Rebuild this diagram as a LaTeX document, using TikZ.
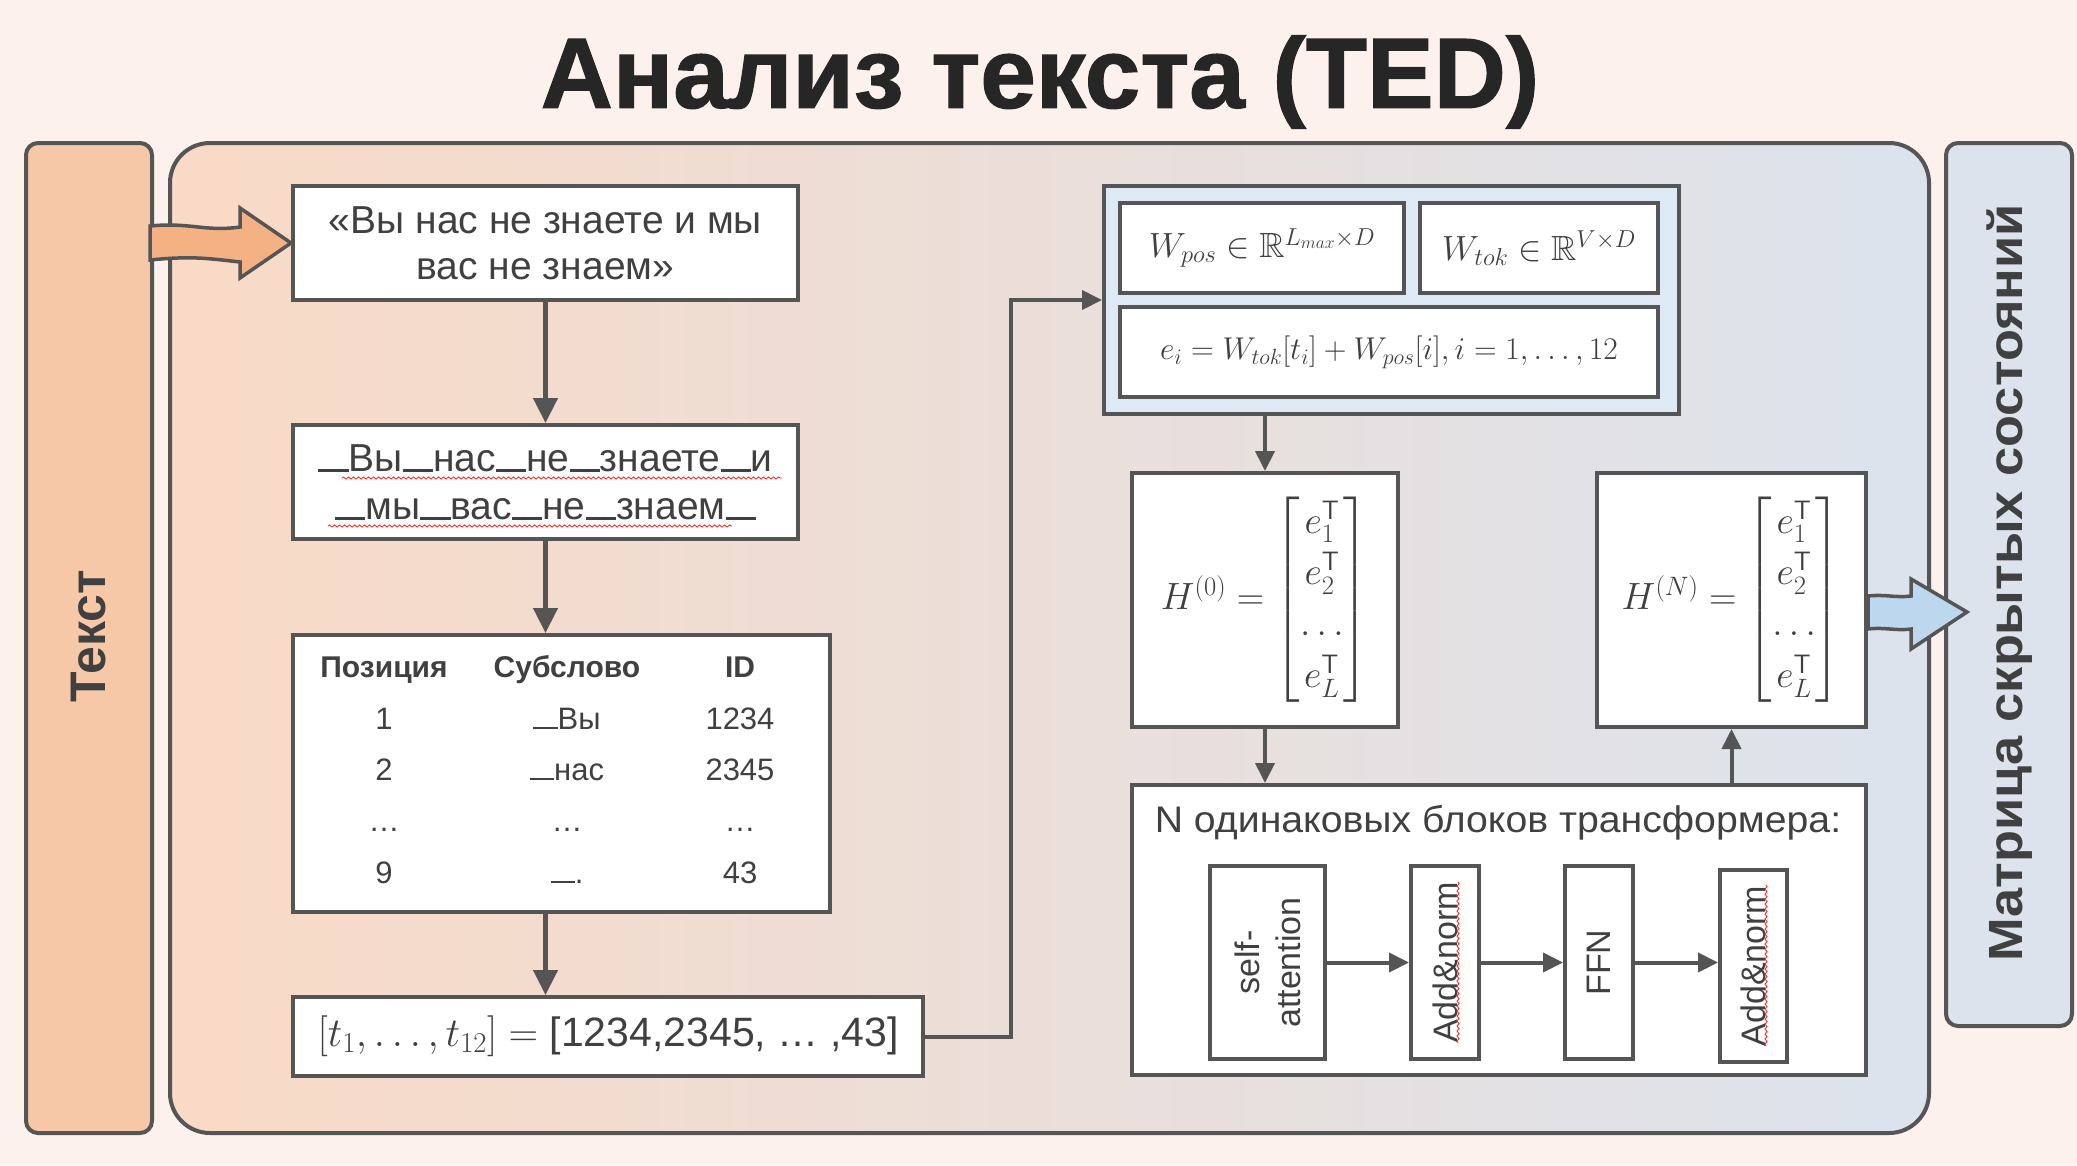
\RequirePackage{fix-cm}
\documentclass[tikz,border=0pt]{standalone}
\usepackage{amsmath,amssymb}
\usepackage[no-math]{fontspec}
\setmainfont{Liberation Sans}
\newfontfamily\ttlfont[FakeBold=1.2]{Liberation Sans}
\usetikzlibrary{arrows.meta,calc,decorations.pathmorphing}
\definecolor{bgc}{HTML}{FCF1EC}
\definecolor{lc}{HTML}{555555}
\definecolor{txt}{HTML}{404040}
\definecolor{ttl}{HTML}{262626}
\definecolor{lbc}{HTML}{F7C8A7}
\definecolor{rbc}{HTML}{DCE3EC}
\definecolor{pl}{HTML}{F9DAC6}
\definecolor{pm}{HTML}{EBDAD1}
\definecolor{pr}{HTML}{DCE3ED}
\definecolor{embc}{HTML}{DDEAF6}
\definecolor{orc}{HTML}{F4B183}
\definecolor{blc}{HTML}{BDD7EE}
\newcommand{\spc}{\rule[-0.01em]{0.78em}{0.075em}}
\newcommand{\hmat}[1]{$H^{(#1)} = \renewcommand{\arraystretch}{1.14}\begin{bmatrix} e_1^{\mathsf{T}}\\ e_2^{\mathsf{T}}\\ \dots\\ e_L^{\mathsf{T}}\end{bmatrix}$}
\begin{document}
\begin{tikzpicture}[x=1pt,y=-1pt,
  ln/.style={draw=lc, line width=4pt},
  box/.style={ln, fill=white, inner sep=0pt, text=txt},
  arr/.style={draw=lc, line width=4.5pt, -{Triangle[length=25pt,width=24pt]}},
  arrs/.style={draw=lc, line width=4pt, -{Triangle[length=20pt,width=19pt]}},
  sq/.style={draw=red!85, line width=0.9pt, decorate, decoration={snake, amplitude=1pt, segment length=5pt}},
  f38/.style={font=\fontsize{39}{46}\selectfont},
  f31/.style={font=\fontsize{31}{37}\selectfont, text=txt},
  f31b/.style={font=\fontsize{30}{36}\selectfont\bfseries, text=txt},
  vt/.style={rotate=90, font=\fontsize{34}{41}\selectfont, text=txt, align=center},
  mthw/.style={font=\fontsize{35}{40}\selectfont},
  mth/.style={font=\fontsize{31.5}{36}\selectfont},
  hm/.style={font=\fontsize{38}{45}\selectfont},
]
\fill[bgc] (0,0) rectangle (2077,1165);
\useasboundingbox (0,0) rectangle (2077,1165);

\node[font=\fontsize{100}{110}\selectfont\ttlfont\bfseries, text=ttl] (title) at (1040,82) {Анализ текста (TED)};

% side bars and main panel
\node[ln, fill=lbc, rounded corners=12, minimum width=126, minimum height=990] (left) at (89,638) {};
\node[rotate=90, font=\fontsize{50}{58}\selectfont\bfseries, text=txt] (ltxt) at (89,636) {Текст};
\node[ln, rounded corners=40, left color=pl, middle color=pm, right color=pr, minimum width=1759, minimum height=990] (main) at (1049.5,638) {};
\node[ln, fill=rbc, rounded corners=12, minimum width=126, minimum height=883] (right) at (2009,584.5) {};
\node[rotate=90, font=\fontsize{48}{56}\selectfont\bfseries, text=txt] (rtxt) at (2010,583) {\scalebox{1.09}[1]{Матрица скрытых состояний}};

% left column
\node[box, f38, align=center, minimum width=505, minimum height=114] (b1) at (545.5,243) {«Вы нас не знаете и мы\\вас не знаем»};
\node[box, f38, align=center, minimum width=505, minimum height=114] (b2) at (545.5,482) {\spc Вы\spc нас\spc не\spc знаете\spc и\\[2pt]\spc мы\spc вас\spc не\spc знаем\spc};
\draw[sq] (342,478) -- (782,478);
\draw[sq] (328,526) -- (732,526);
\node[box, minimum width=537, minimum height=277] (tab) at (561.5,773.5) {};
\node[f31b, anchor=base] (h1) at (384,677) {Позиция};
\node[f31b, anchor=base] (h2) at (567,677) {Субслово};
\node[f31b, anchor=base] (h3) at (740,677) {ID};
\node[f31, anchor=base] (r11) at (384,729) {1};
\node[f31, anchor=base] (r12) at (567,729) {\spc Вы};
\node[f31, anchor=base] (r13) at (740,729) {1234};
\node[f31, anchor=base] (r21) at (384,780) {2};
\node[f31, anchor=base] (r22) at (567,780) {\spc нас};
\node[f31, anchor=base] (r23) at (740,780) {2345};
\node[f31, anchor=base] (r31) at (384,831) {…};
\node[f31, anchor=base] (r32) at (567,831) {…};
\node[f31, anchor=base] (r33) at (740,831) {…};
\node[f31, anchor=base] (r41) at (384,883) {9};
\node[f31, anchor=base] (r42) at (567,883) {\spc .};
\node[f31, anchor=base] (r43) at (740,883) {43};
\node[box, font=\fontsize{41}{48}\selectfont, minimum width=630, minimum height=79] (b4) at (608,1036.5) {$[t_1,\dots,t_{12}] =$ [1234,2345, … ,43]};

% embedding
\node[ln, fill=embc, minimum width=575, minimum height=228] (emb) at (1391.5,300) {};
\node[box, mthw, minimum width=284, minimum height=90] (wpos) at (1262,248) {\raisebox{4pt}{$W_{pos}\in\mathbb{R}^{L_{max}\times D}$}};
\node[box, mthw, minimum width=238, minimum height=90] (wtok) at (1539,248) {\raisebox{4pt}{$W_{tok}\in\mathbb{R}^{V\times D}$}};
\node[box, mth, minimum width=538, minimum height=90] (eq) at (1389,352) {$e_i = W_{tok}[t_i] + W_{pos}[i], i = 1, \dots, 12$};

% hidden states
\node[box, hm, minimum width=266, minimum height=254] (H0) at (1265,600) {\hmat{0}};
\node[box, hm, minimum width=269, minimum height=254] (HN) at (1731.5,600) {\hmat{N}};

% transformer
\node[box, minimum width=734, minimum height=290] (tr) at (1499,930) {};
\node[font=\fontsize{37}{44}\selectfont, text=txt] (trt) at (1498,823) {\scalebox{1.06}[1]{N одинаковых блоков трансформера:}};
\node[box, minimum width=115, minimum height=193] (sa) at (1267.5,962.5) {};
\node[vt] (sat) at (sa) {self-\\attention};
\node[box, minimum width=68, minimum height=193] (an1) at (1445,962.5) {};
\node[vt] (an1t) at (an1) {Add\&norm};
\node[box, minimum width=68, minimum height=193] (ffn) at (1599,962.5) {};
\node[vt] (ffnt) at (ffn) {FFN};
\node[box, minimum width=67, minimum height=192] (an2) at (1753.5,966) {};
\node[vt] (an2t) at (an2) {Add\&norm};
\draw[sq] (1458,882) -- (1458,1043);
\draw[sq] (1766,885) -- (1766,1046);

% connectors
\draw[arr] (b1.south) -- (b2.north);
\draw[arr] (b2.south) -- (b2.south |- tab.north);
\draw[arr] (b2.south |- tab.south) -- (b2.south |- b4.north);
\draw[arrs] (b4.east) -| ($(emb.west)+(-91,0)$) -- (emb.west);
\draw[arrs] (H0.north |- emb.south) -- (H0.north);
\draw[arrs] (H0.south) -- (H0.south |- tr.north);
\draw[arrs] (HN.south |- tr.north) -- (HN.south);
\draw[arrs] (sa.east) -- (an1.west);
\draw[arrs] (an1.east) -- (ffn.west);
\draw[arrs] (ffn.east) -- (ffn.east -| an2.west);

% block arrows
\filldraw[draw=lc, line width=3.5pt, fill=orc, line join=miter] (150,226) .. controls (190,222) and (205,232) .. (240,227) -- (240,208) -- (b1.west) -- (240,278) -- (240,262) .. controls (205,258) and (190,256) .. (150,260) -- cycle;
\filldraw[draw=lc, line width=3.5pt, fill=blc, line join=miter] (HN.east |- 0,596) .. controls (1885,594) and (1895,598) .. (1911,596) -- (1911,579) -- (1967,612) -- (1911,649) -- (1911,629) .. controls (1895,631) and (1885,627) .. (HN.east |- 0,629) -- cycle;
\end{tikzpicture}
\end{document}
